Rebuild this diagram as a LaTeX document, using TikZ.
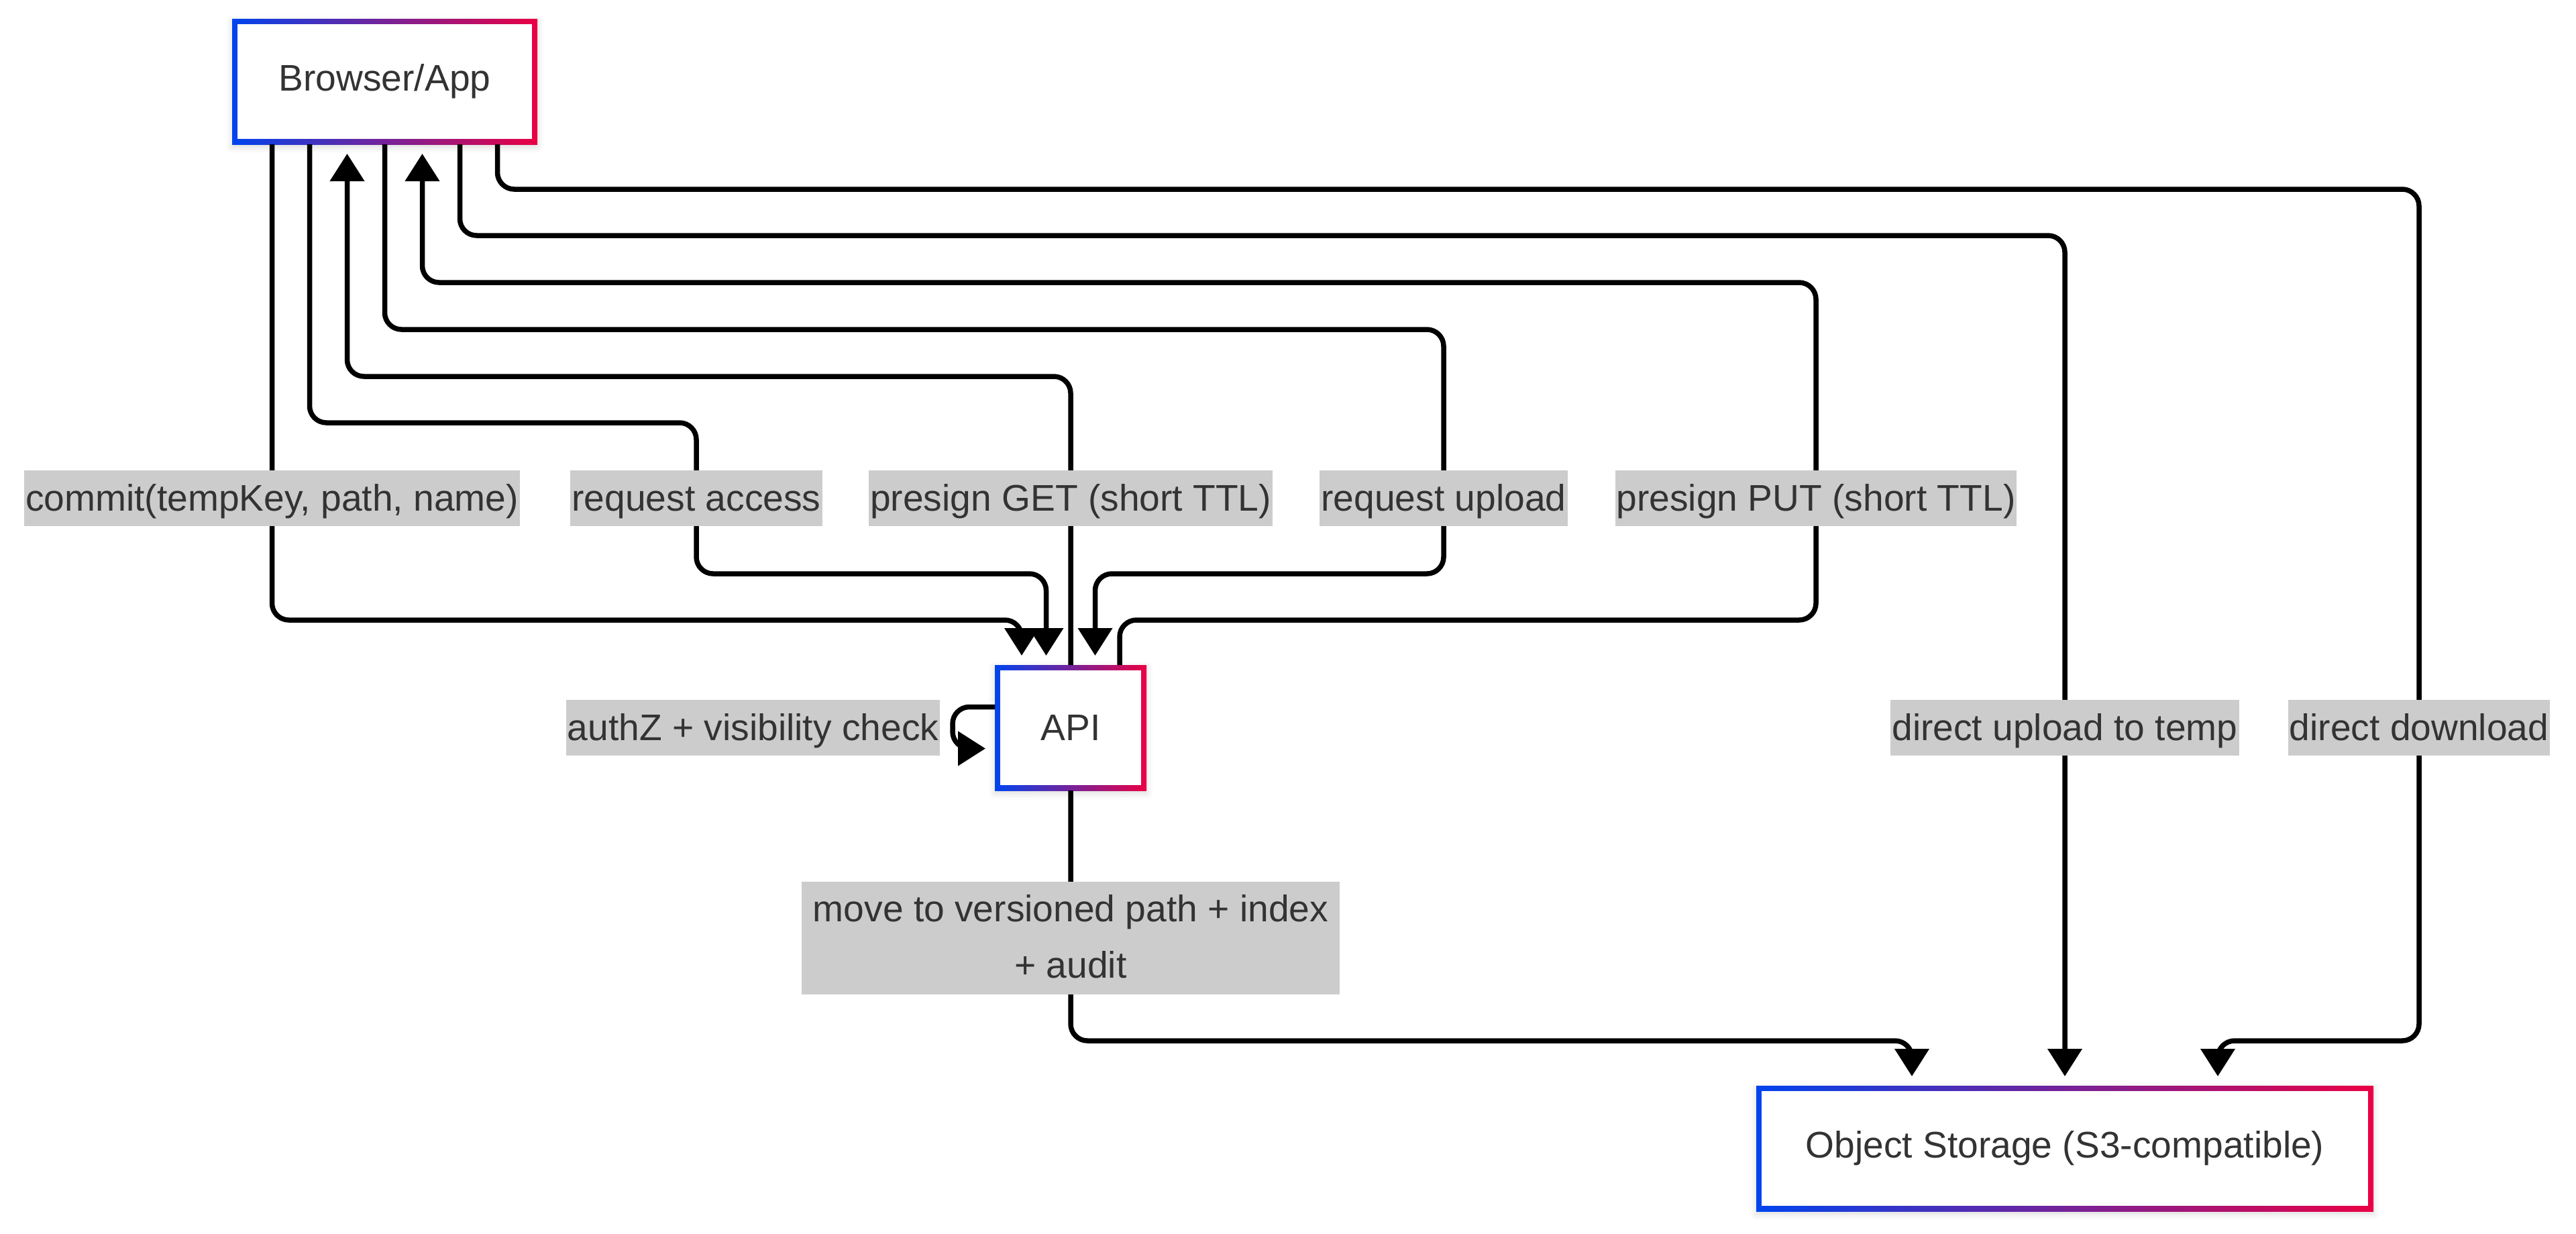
\documentclass[tikz,border=0pt]{standalone}
\usepackage{fontspec}
\setmainfont{Liberation Sans}
\usetikzlibrary{arrows.meta,shadows.blur}
\definecolor{gradblue}{RGB}{0,68,238}
\definecolor{gradred}{RGB}{234,0,68}
\definecolor{labelgray}{RGB}{204,204,204}
\definecolor{textgray}{RGB}{51,51,51}

\begin{document}
\begin{tikzpicture}[font=\fontsize{15.7pt}{23.9pt}\selectfont, text=textgray]
    \useasboundingbox (0,0) rectangle (38.4,-18.38);

    \begin{scope} [box style/.style={minimum height=1.87cm,
                                    inner sep=0pt,
                                    outer sep=0pt,
                                    left color=gradblue,
                                    right color=gradred,
                                    blur shadow={shadow xshift=0pt,
                                                 shadow yshift=-0.04cm,
                                                 shadow blur radius=0.1cm,
                                                 shadow opacity=15},
                                    path picture={\fill[white]
                                      ([shift={(0.077cm,0.077cm)}]path picture bounding box.south west)
                                      rectangle
                                      ([shift={(-0.077cm,-0.077cm)}]path picture bounding box.north east);}}]
      \node[box style, minimum width=4.55cm] (browser) at (5.735,-1.215) {Browser/App};
      \node[box style, minimum width=2.26cm] (api) at (15.96,-10.845) {API};
      \node[box style, minimum width=9.2cm] (storage) at (30.78,-17.115) {Object Storage (S3-compatible)};
    \end{scope}

    \path \foreach \i in {1,...,7}{%
      ([xshift={(\i-4)*0.56cm}]browser.south) coordinate (b\i)}
      \foreach \i in {1,...,5}{%
      ([xshift={(\i-3)*0.365cm}]api.north) coordinate (a\i)}
      \foreach \i in {1,...,3}{%
      ([xshift={(\i-2)*2.28cm}]storage.north) coordinate (s\i)}
      ;

    \begin{scope} [edge style/.style={draw=black,
                                     line width=0.075cm,
                                     rounded corners=0.25cm,
                                     -{Triangle[length=0.41cm,width=0.5cm]},
                                     shorten >=0.14cm}]
      \draw[edge style] (b1) -- (b1 |- 0,-9.24) -| (a1);
      \draw[edge style] (b2) -- (b2 |- 0,-6.30) -| (10.38,-8.55) -| (a2);
      \draw[edge style] (a3) -- (a3 |- 0,-5.61) -| (b3);
      \draw[edge style] (b4) -- (b4 |- 0,-4.91) -| (21.52,-8.55) -| (a4);
      \draw[edge style] (a5) -- (a5 |- 0,-9.24) -| (27.07,-4.21) -| (b5);
      \draw[edge style] (b6) -- (b6 |- 0,-3.51) -| (s2);
      \draw[edge style] (b7) -- (b7 |- 0,-2.82) -| (36.06,-15.51) -| (s3);
      \draw[edge style] (api.south) -- (api.south |- 0,-15.51) -| (s1);
      \draw[edge style] ([yshift=0.31cm]api.west) -- ++(-0.63,0) -- ++(0,-0.62)
        -- ([yshift=-0.31cm]api.west);
    \end{scope}

    \begin{scope} [label style/.style={fill=labelgray,
                                      inner xsep=0.02cm,
                                      inner ysep=0.05cm,
                                      text height=0.55cm,
                                      text depth=0.18cm}]
      \node[label style] (commit) at (b1 |- 0,-7.425) {commit(tempKey, path, name)};
      \node[label style] (access) at (10.38,-7.425) {request access};
      \node[label style] (getURL) at (a3 |- 0,-7.425) {presign GET (short TTL)};
      \node[label style] (upload) at (21.52,-7.425) {request upload};
      \node[label style] (putURL) at (27.07,-7.425) {presign PUT (short TTL)};
      \node[label style] (direct up) at (s2 |- api) {direct upload to temp};
      \node[label style] (direct down) at (36.06,-10.845) {direct download};
      \node[label style, anchor=east] (check) at ([xshift=-0.81cm]api.west) {authZ + visibility check};
      \node[label style, align=center, inner xsep=0.17cm, text height=1.38cm, text depth=0.2cm] (move)
        at (api.south |- 0,-13.98) {move to versioned path + index\\+ audit};
    \end{scope}

\end{tikzpicture}
\end{document}
